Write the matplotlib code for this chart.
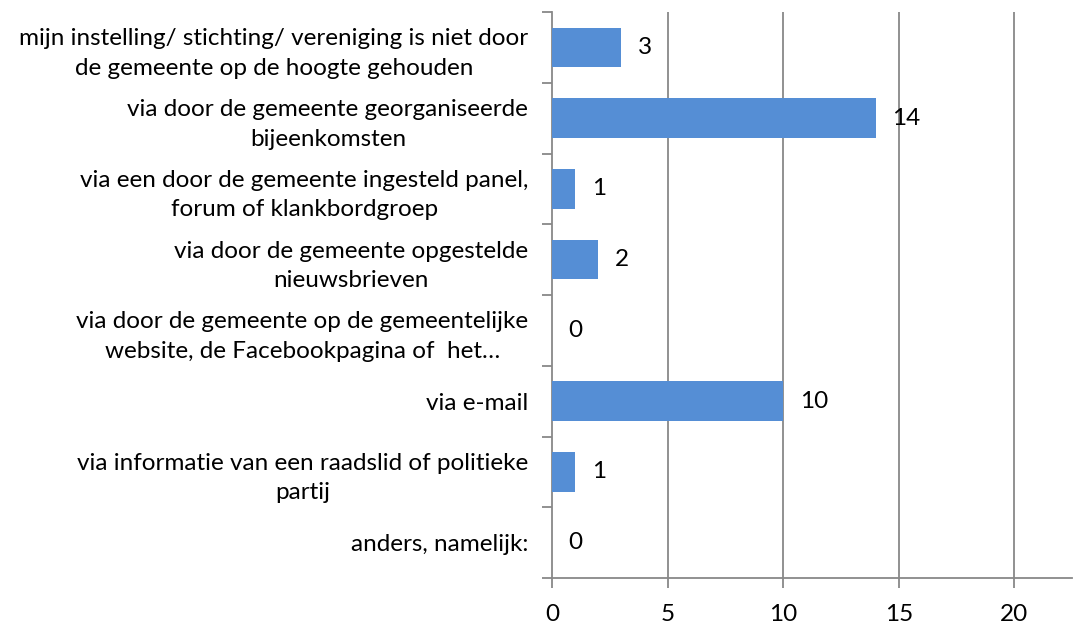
import matplotlib
matplotlib.use("Agg")
import matplotlib.pyplot as plt
import numpy as np

categories = [
    "mijn instelling/ stichting/ vereniging is niet door\nde gemeente op de hoogte gehouden",
    "via door de gemeente georganiseerde\nbijeenkomsten",
    "via een door de gemeente ingesteld panel,\nforum of klankbordgroep",
    "via door de gemeente opgestelde\nnieuwsbrieven",
    "via door de gemeente op de gemeentelijke\nwebsite, de Facebookpagina of  het…",
    "via e-mail",
    "via informatie van een raadslid of politieke\npartij",
    "anders, namelijk:",
]
values = [3, 14, 1, 2, 0, 10, 1, 0]
xticks = [0, 5, 10, 15, 20]

plt.rcParams['font.family'] = ['Lato', 'DejaVu Sans']
fig = plt.figure(figsize=(10.78, 6.26), dpi=100)
ax = fig.add_axes([0.512, 0.0767, 0.4825, 0.904])

n = len(categories)
y = np.arange(n)
ax.barh(y, values, height=0.56, color="#558ED5", zorder=3)
ax.set_ylim(n - 0.5, -0.5)
ax.set_xlim(0, 22.5)

gray = "#888888"
for v in xticks[1:]:
    ax.axvline(v, color=gray, lw=1.3, zorder=1)

for yi, v in zip(y, values):
    ax.annotate(str(v), (v, yi), xytext=(12, 0), textcoords="offset points",
                va="center", ha="left", fontsize=17.5, color="black")

ax.set_yticks(y)
ax.set_yticklabels(categories, fontsize=17.5, multialignment="center", linespacing=1.5)
ax.tick_params(axis="y", which="major", length=0, pad=17)
ax.set_yticks(np.arange(-0.5, n, 1), minor=True)
ax.tick_params(axis="y", which="minor", length=7, color=gray, width=1.3, direction="out")

ax.set_xticks(xticks)
ax.set_xticklabels([str(t) for t in xticks], fontsize=17.5)
ax.tick_params(axis="x", length=7, color=gray, width=1.3, direction="out", pad=12)

for s in ["top", "right"]:
    ax.spines[s].set_visible(False)
for s in ["left", "bottom"]:
    ax.spines[s].set_color(gray)
    ax.spines[s].set_linewidth(1.3)

fig.savefig("out.png", dpi=100)
